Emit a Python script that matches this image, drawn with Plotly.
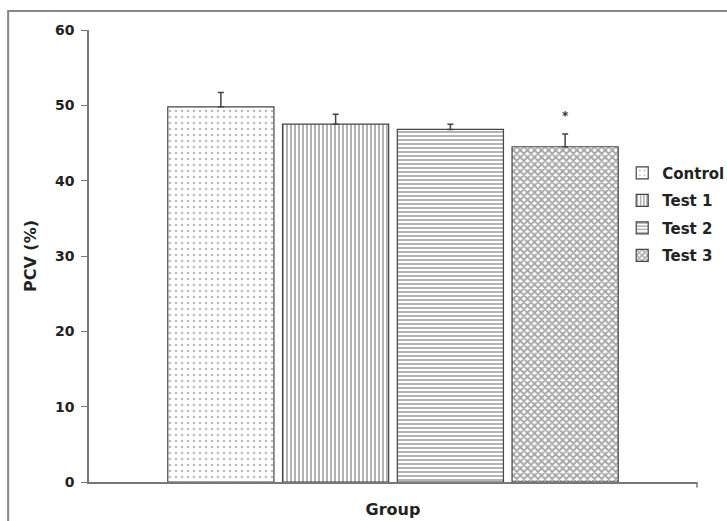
import plotly.graph_objects as go

categories = ["Control", "Test 1", "Test 2", "Test 3"]
means = [49.8, 47.5, 46.8, 44.5]
errors = [1.9, 1.3, 0.7, 1.7]
significance = ["", "", "", "*"]
sig_level = [None, None, None, 48.6]
group_label = ["Group"]

patterns = [
    dict(shape=".", size=6, solidity=0.15, fgcolor="#777777", bgcolor="white"),
    dict(shape="|", size=4, solidity=0.45, fgcolor="#555555", bgcolor="white"),
    dict(shape="-", size=4, solidity=0.45, fgcolor="#555555", bgcolor="white"),
    dict(shape="x", size=5, solidity=0.6, fgcolor="#4a4a4a", bgcolor="white"),
]

FONT = "DejaVu Sans, Liberation Sans, Arial, sans-serif"
bargap = 0.245
fig = go.Figure()
for i, (name, m, e) in enumerate(zip(categories, means, errors)):
    fig.add_trace(go.Bar(
        x=group_label, y=[m], name=name, legendgroup=name,
        marker=dict(color="white", line=dict(color="#444444", width=1.2), pattern=patterns[i]),
        error_y=dict(type="data", array=[e], arrayminus=[0], symmetric=False,
                     color="#444444", thickness=1.5, width=3),
    ))

n = len(categories)
slot = (1 - bargap) / n
for i, (s, lvl) in enumerate(zip(significance, sig_level)):
    if s:
        fig.add_annotation(x=-(1 - bargap) / 2 + slot * (i + 0.5), xref="x",
                           y=lvl, yref="y", text=s, showarrow=False,
                           font=dict(family=FONT, size=12, color="#333333", weight="bold"))

fig.add_shape(type="rect", xref="paper", yref="paper",
              x0=-0.133, x1=1.1, y0=-0.2, y1=1.042,
              line=dict(color="#888888", width=2), fillcolor="rgba(0,0,0,0)", layer="below")

fig.update_layout(
    width=727, height=521,
    margin=dict(l=89, r=30, t=30, b=39, autoexpand=False),
    paper_bgcolor="white", plot_bgcolor="white",
    barmode="group", bargap=bargap, bargroupgap=0.075,
    font=dict(family=FONT, size=12, color="#222222"),
    showlegend=True,
    legend=dict(x=0.877, y=0.72, xanchor="left", yanchor="top",
                font=dict(family=FONT, size=15, color="#222222", weight="bold"),
                tracegroupgap=5, bgcolor="rgba(0,0,0,0)", itemwidth=30),
    xaxis=dict(type="category", range=[-0.5, 0.5], showticklabels=False, automargin=False,
               showline=True, linecolor="#777777", linewidth=1.5,
               ticks="outside", ticklen=6, tickcolor="#777777",
               tickvals=[], showgrid=False, zeroline=False,
               title=dict(text="Group", standoff=15,
                          font=dict(family=FONT, size=16, color="#222222", weight="bold"))),
    yaxis=dict(range=[0, 60], dtick=10, showline=True, linecolor="#777777", linewidth=1.5,
               automargin=False, ticklabelstandoff=4,
               ticks="outside", ticklen=6, tickcolor="#777777", showgrid=False, zeroline=False,
               tickfont=dict(family=FONT, size=14, color="#222222", weight="bold"),
               title=dict(text="PCV (%)", standoff=14,
                          font=dict(family=FONT, size=16, color="#222222", weight="bold"))),
)
fig.add_shape(type="line", xref="paper", yref="paper", x0=1, x1=1, y0=0, y1=-0.012,
              line=dict(color="#777777", width=1.5))

fig.write_html("out.html", post_script="document.body.style.margin='0';",
               config={"displayModeBar": False})
